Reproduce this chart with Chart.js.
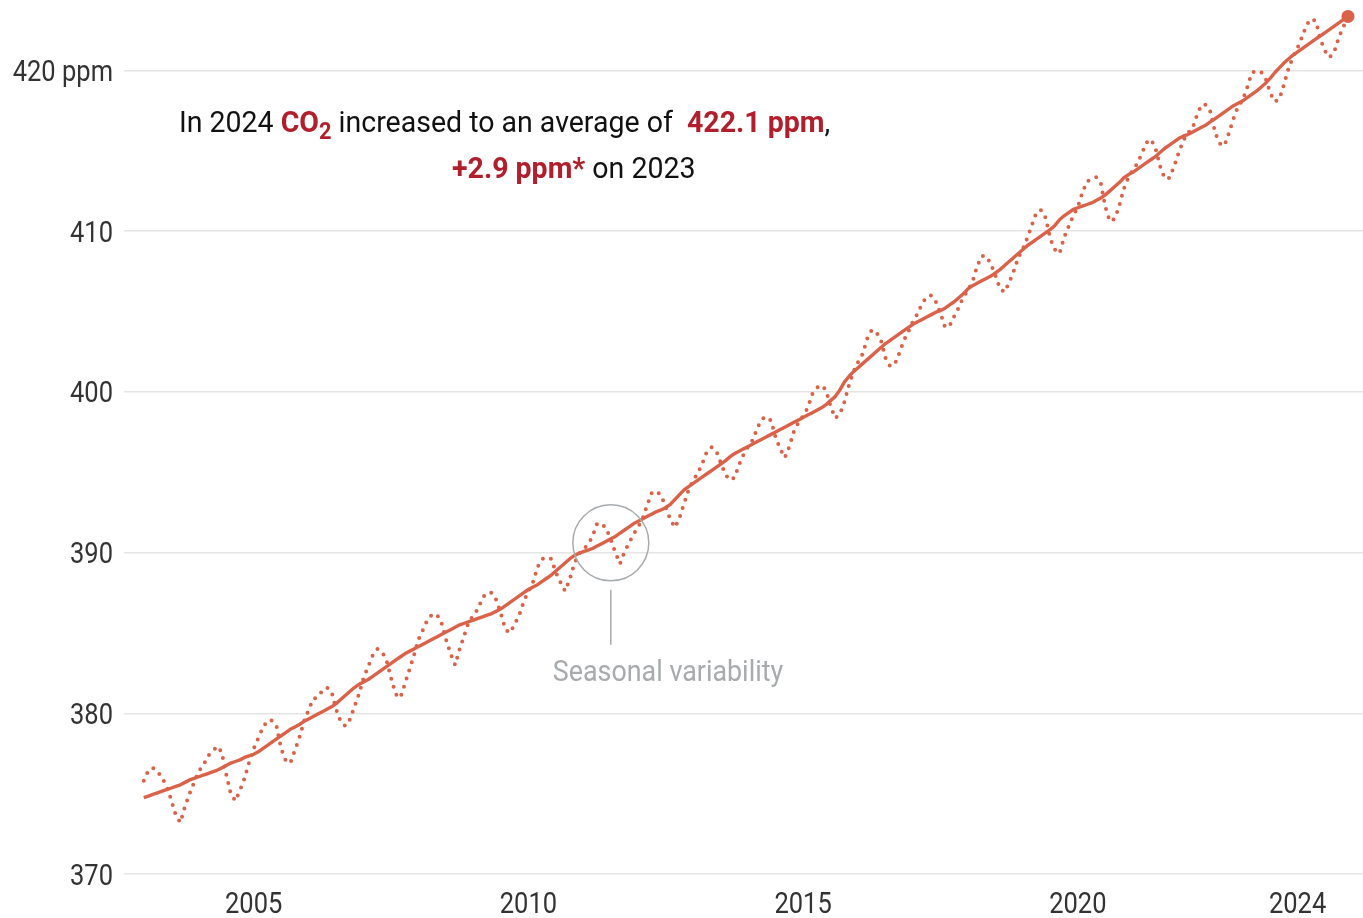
<!DOCTYPE html>
<html>
<head>
<meta charset="utf-8">
<script src="https://cdn.jsdelivr.net/npm/chart.js@4.4.1/dist/chart.umd.min.js"></script>
<style>
  html, body { margin: 0; padding: 0; background: #fff; }
  #wrap { width: 1363px; height: 918px; position: relative; }
</style>
</head>
<body>
<div id="wrap"><canvas id="co2Chart"></canvas></div>
<script>
// monthly values, Jan 2003 .. Dec 2024
const startYear = 2003;

const co2Monthly = [
  375.8, 376.45, 376.6, 376.4, 375.95, 375.5, 374.6, 373.65, 373.2, 374.2, 375.0, 375.7,
  376.4, 376.75, 377.35, 377.6, 377.95, 377.6, 376.2, 375.0, 374.55, 375.2, 375.95, 376.95,
  377.8, 378.45, 379.1, 379.55, 379.55, 379.2, 377.8, 377.05, 376.9, 377.7, 378.5, 379.5,
  380.2, 380.9, 381.0, 381.4, 381.6, 381.35, 380.25, 379.5, 379.2, 379.6, 380.4, 381.2,
  382.2, 382.9, 383.6, 384.0, 383.85, 383.3, 382.2, 381.2, 380.95, 381.8, 382.7, 383.6,
  384.6, 385.2, 385.85, 386.15, 386.15, 385.65, 384.6, 383.7, 383.0, 384.0, 384.85, 385.7,
  386.1, 386.5, 387.2, 387.5, 387.5, 387.05, 386.2, 385.2, 385.0, 385.55, 386.1, 386.95,
  387.6, 388.15, 389.1, 389.6, 389.7, 389.6, 388.75, 388.15, 387.6, 388.3, 389.3, 389.9,
  390.2, 390.5, 391.0, 391.8, 391.8, 391.5, 390.8, 390.0, 389.3, 390.05, 390.6, 391.15,
  391.6, 392.15, 393.0, 393.75, 393.8, 393.55, 392.8, 392.05, 391.55, 392.15, 393.05, 393.9,
  394.5, 394.95, 395.55, 396.3, 396.55, 396.35, 395.6, 394.85, 394.5, 394.65, 395.45, 396.1,
  396.6, 397.0, 397.75, 398.3, 398.45, 398.2, 397.15, 396.45, 395.9, 396.6, 397.55, 398.1,
  398.5, 399.0, 399.85, 400.25, 400.4, 400.1, 399.1, 398.35, 398.6, 399.35, 400.4, 401.25,
  401.85, 402.35, 403.3, 403.85, 403.7, 403.2, 402.1, 401.6, 401.7, 402.4, 403.2, 403.75,
  404.4, 404.85, 405.5, 405.9, 406.0, 405.6, 404.9, 404.0, 404.1, 404.7, 405.25, 405.9,
  406.3, 406.85, 407.8, 408.45, 408.45, 407.95, 407.25, 406.4, 406.2, 406.8, 407.5, 408.35,
  408.9, 409.6, 410.4, 411.2, 411.3, 410.8, 409.5, 408.85, 408.6, 409.6, 410.3, 410.95,
  411.5, 412.4, 413.1, 413.2, 413.35, 413.0, 411.5, 410.6, 410.75, 411.5, 412.6, 413.3,
  413.8, 414.2, 414.85, 415.5, 415.7, 415.1, 414.0, 413.25, 413.3, 414.0, 414.85, 415.6,
  416.1, 416.35, 417.2, 417.85, 417.85, 417.4, 416.1, 415.45, 415.3, 416.1, 417.0, 417.75,
  418.15, 418.95, 419.85, 419.95, 419.9, 419.5, 418.6, 418.05, 418.2, 419.1, 420.1, 420.85,
  421.4, 422.1, 422.85, 423.2, 423.05, 421.9, 421.2, 420.8, 421.15, 422.05, 422.7, 423.4
];

const co2Trend = [
  374.75, 374.85, 374.95, 375.05, 375.15, 375.25, 375.35, 375.45, 375.55, 375.7, 375.85, 375.95,
  376.05, 376.15, 376.25, 376.35, 376.45, 376.6, 376.75, 376.9, 377.0, 377.1, 377.25, 377.35,
  377.45, 377.6, 377.8, 378.0, 378.2, 378.4, 378.6, 378.8, 379.0, 379.15, 379.3, 379.5,
  379.65, 379.8, 379.95, 380.1, 380.25, 380.4, 380.6, 380.85, 381.1, 381.35, 381.6, 381.8,
  381.95, 382.1, 382.3, 382.5, 382.7, 382.9, 383.1, 383.3, 383.5, 383.7, 383.85, 384.0,
  384.15, 384.3, 384.45, 384.6, 384.75, 384.9, 385.05, 385.2, 385.35, 385.5, 385.6, 385.7,
  385.8, 385.9, 386.0, 386.1, 386.2, 386.35, 386.5, 386.7, 386.9, 387.1, 387.3, 387.5,
  387.7, 387.85, 388.0, 388.2, 388.4, 388.6, 388.85, 389.1, 389.35, 389.6, 389.8, 389.95,
  390.05, 390.15, 390.25, 390.4, 390.55, 390.7, 390.85, 391.0, 391.2, 391.4, 391.6, 391.8,
  391.95, 392.1, 392.25, 392.4, 392.55, 392.65, 392.8, 393.0, 393.3, 393.6, 393.9, 394.1,
  394.3, 394.5, 394.7, 394.9, 395.1, 395.3, 395.5, 395.7, 395.95, 396.15, 396.3, 396.45,
  396.6, 396.75, 396.9, 397.05, 397.2, 397.35, 397.5, 397.65, 397.8, 397.95, 398.1, 398.25,
  398.4, 398.55, 398.7, 398.85, 399.0, 399.2, 399.45, 399.7, 400.1, 400.6, 400.95, 401.25,
  401.5, 401.75, 402.0, 402.25, 402.5, 402.75, 403.0, 403.2, 403.4, 403.6, 403.8, 404.0,
  404.2, 404.35, 404.5, 404.65, 404.8, 404.95, 405.05, 405.2, 405.4, 405.6, 405.85, 406.1,
  406.4, 406.6, 406.75, 406.9, 407.05, 407.2, 407.4, 407.6, 407.85, 408.1, 408.35, 408.6,
  408.85, 409.1, 409.3, 409.5, 409.7, 409.9, 410.1, 410.35, 410.7, 410.95, 411.15, 411.35,
  411.45, 411.55, 411.65, 411.75, 411.9, 412.05, 412.25, 412.5, 412.75, 413.0, 413.3, 413.5,
  413.65, 413.85, 414.05, 414.25, 414.45, 414.65, 414.9, 415.15, 415.35, 415.55, 415.75, 415.9,
  416.0, 416.15, 416.3, 416.45, 416.6, 416.8, 417.0, 417.2, 417.4, 417.6, 417.8, 417.95,
  418.1, 418.3, 418.5, 418.7, 418.95, 419.2, 419.5, 419.85, 420.15, 420.45, 420.7, 420.95,
  421.15, 421.35, 421.55, 421.75, 421.95, 422.15, 422.35, 422.55, 422.75, 422.95, 423.15, 423.35
];

const xTickValues = [2005, 2010, 2015, 2020, 2024];
const xTickLabels = ['2005', '2010', '2015', '2020', '2024'];
const yTickValues = [370, 380, 390, 400, 410, 420];
const yTickLabels = ['370', '380', '390', '400', '410', '420 ppm'];

// where the "seasonal variability" circle sits, in data units
const noteYear = 2011.5;
const noteValue = 390.6;

const lineColor = '#db6249';
const highlight = '#b01f2b';
const noteGrey = '#a7abae';
const squeeze = 0.85;  // no condensed face installed, so squash Roboto

function toPoints(values) {
  return values.map((v, i) => ({ x: startYear + i / 12, y: v }));
}

function squeezedText(ctx, str, px, py, align, sx) {
  sx = sx || squeeze;
  const w = ctx.measureText(str).width * sx;
  let left = px;
  if (align === 'right') left = px - w;
  else if (align === 'center') left = px - w / 2;
  ctx.save();
  ctx.translate(left, py);
  ctx.scale(sx, 1);
  ctx.textAlign = 'left';
  ctx.fillText(str, 0, 0);
  ctx.restore();
}

// parts: [text, font, colour, dy]
function richLine(ctx, parts, px, py, sx) {
  ctx.save();
  ctx.translate(px, py);
  ctx.scale(sx, 1);
  ctx.textAlign = 'left';
  ctx.textBaseline = 'alphabetic';
  let cur = 0;
  parts.forEach(p => {
    ctx.font = p[1];
    ctx.fillStyle = p[2];
    ctx.fillText(p[0], cur, p[3] || 0);
    cur += ctx.measureText(p[0]).width;
  });
  ctx.restore();
}

const textPlugin = {
  id: 'texts',
  afterDraw(chart) {
    const ctx = chart.ctx;
    const area = chart.chartArea;
    const xs = chart.scales.x;
    const ys = chart.scales.y;

    ctx.save();
    ctx.fillStyle = '#333333';
    ctx.font = '30px Roboto';
    ctx.textBaseline = 'middle';
    yTickValues.forEach((v, i) => {
      squeezedText(ctx, yTickLabels[i], area.left - 11, ys.getPixelForValue(v) + 3, 'right');
    });
    ctx.textBaseline = 'alphabetic';
    xTickValues.forEach((v, i) => {
      squeezedText(ctx, xTickLabels[i], xs.getPixelForValue(v), area.bottom + 39, 'center');
    });

    // headline
    const reg = '30px Roboto';
    const bold = 'bold 30px Roboto';
    richLine(ctx, [
      ['In 2024 ', reg, '#111111'],
      ['CO', bold, highlight],
      ['2', 'bold 23px Roboto', highlight, 7],
      [' increased to an average of  ', reg, '#111111'],
      ['422.1 ppm', bold, highlight],
      [',', reg, '#111111']
    ], area.left + 55, area.top + 126, 0.95);
    richLine(ctx, [
      ['+2.9 ppm*', bold, highlight],
      [' on 2023', reg, '#111111']
    ], area.left + 328, area.top + 172, 0.95);

    // seasonal variability note
    const cx = xs.getPixelForValue(noteYear);
    const cy = ys.getPixelForValue(noteValue);
    ctx.strokeStyle = noteGrey;
    ctx.lineWidth = 1.5;
    ctx.beginPath();
    ctx.arc(cx, cy, 38, 0, Math.PI * 2);
    ctx.stroke();
    ctx.beginPath();
    ctx.moveTo(cx, cy + 47);
    ctx.lineTo(cx, cy + 102);
    ctx.stroke();
    ctx.fillStyle = noteGrey;
    ctx.font = '30px Roboto';
    squeezedText(ctx, 'Seasonal variability', cx - 58, cy + 138, 'left', 0.895);
    ctx.restore();
  }
};

const lastIndex = co2Trend.length - 1;

const ctx = document.getElementById('co2Chart').getContext('2d');
const co2Chart = new Chart(ctx, {
  type: 'line',
  data: {
    datasets: [
      {
        label: 'Monthly',
        data: toPoints(co2Monthly),
        borderColor: lineColor,
        borderWidth: 4,
        borderDash: [0, 8.5],
        borderCapStyle: 'round',
        borderJoinStyle: 'round',
        pointRadius: 0,
        fill: false,
        tension: 0
      },
      {
        label: 'Trend',
        data: toPoints(co2Trend),
        borderColor: lineColor,
        borderWidth: 3.4,
        borderJoinStyle: 'round',
        pointRadius: c => (c.dataIndex === lastIndex ? 6.5 : 0),
        pointBackgroundColor: lineColor,
        pointBorderWidth: 0,
        fill: false,
        tension: 0
      }
    ]
  },
  options: {
    responsive: true,
    maintainAspectRatio: false,
    animation: false,
    layout: { autoPadding: false, padding: { top: 6, right: 0, bottom: 0, left: 0 } },
    plugins: {
      legend: { display: false },
      tooltip: { enabled: false }
    },
    scales: {
      x: {
        type: 'linear',
        min: 2002.64,
        max: 2025.19,
        grid: { display: false },
        border: { display: false },
        ticks: { display: false },
        afterBuildTicks: s => { s.ticks = xTickValues.map(v => ({ value: v })); },
        afterFit: s => { s.height = 44; }
      },
      y: {
        min: 370,
        max: 424,
        grid: { color: '#e5e5e5', lineWidth: 1.5, drawTicks: false },
        border: { display: false },
        ticks: { display: false },
        afterBuildTicks: s => { s.ticks = yTickValues.map(v => ({ value: v })); },
        afterFit: s => { s.width = 124; }
      }
    }
  },
  plugins: [textPlugin]
});
</script>
</body>
</html>
